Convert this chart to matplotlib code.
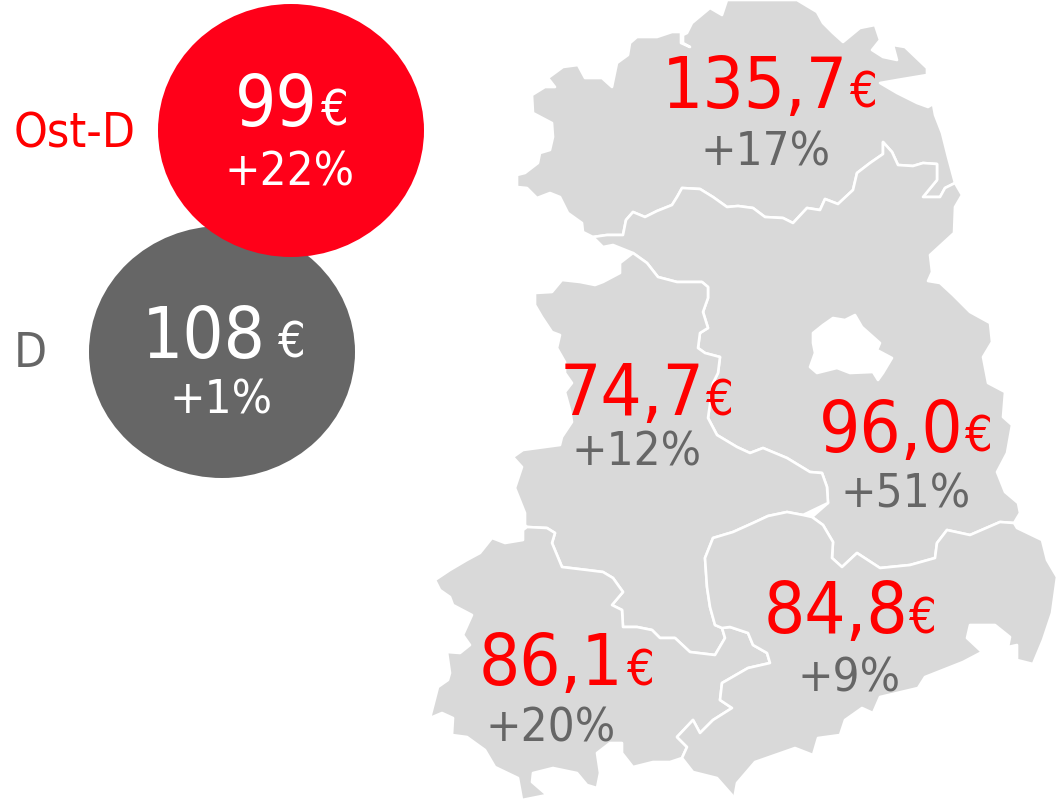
import matplotlib
matplotlib.use("Agg")
from matplotlib import pyplot as plt
from matplotlib.patches import Ellipse, Polygon

RED = "#ff0000"
CIRCLE_RED = "#ff0019"
DARK_GREY = "#666666"
MAP_GREY = "#d9d9d9"

# Revenue per region
region_values = ["135,7", "74,7", "96,0", "84,8", "86,1"]
region_changes = ["+17%", "+12%", "+51%", "+9%", "+20%"]
region_value_x = [755, 632, 891, 836, 551]
region_value_y = [108, 415, 452, 633, 685]
region_euro_x = [864, 720, 979, 923, 641]
region_change_x = [766, 637, 906, 849, 551]
region_change_y = [165, 466, 508, 692, 741]

# Summary circles
circle_names = ["Ost-D", "D"]
circle_values = ["99", "108"]
circle_changes = ["+22%", "+1%"]

# Borders and outlines (pixels)
border_mv_bb = [(583, 232), (593, 237), (607, 235), (623, 235), (626, 220), (633, 212), (645, 217), (657, 211),
                (672, 205), (677, 197), (682, 188), (700, 189), (713, 197), (727, 207), (738, 206), (753, 208),
                (765, 217), (783, 218), (793, 223), (807, 208), (820, 210), (825, 199), (838, 204), (853, 190),
                (857, 173), (870, 163), (883, 154), (883, 142), (892, 152), (898, 165), (913, 166), (923, 163),
                (937, 164), (937, 180), (923, 197), (940, 197), (945, 188), (955, 183)]
outline_mv = [(948, 157), (942, 133), (935, 115), (933, 104), (928, 107), (917, 103), (897, 93), (880, 83), (897, 80),
              (927, 75), (927, 68), (905, 47), (893, 45), (897, 60), (883, 57), (872, 50), (880, 40), (875, 25),
              (860, 28), (843, 42), (833, 33), (823, 23), (817, 12), (797, 0), (727, 0), (722, 15), (710, 8),
              (692, 23), (687, 33), (683, 35), (683, 43), (690, 47), (681, 43), (681, 32), (672, 32), (657, 37),
              (637, 37), (630, 43), (628, 55), (617, 63), (612, 87), (602, 78), (585, 78), (578, 65), (563, 67),
              (548, 78), (555, 87), (545, 87), (532, 95), (533, 113), (552, 123), (553, 137), (550, 150), (540, 153),
              (538, 163), (525, 173), (517, 175), (517, 187), (527, 188), (537, 198), (550, 193), (560, 197),
              (568, 213), (582, 223)]
outline_bb_east = [(962, 195), (955, 207), (954, 233), (930, 255), (932, 272), (928, 281), (940, 283), (953, 295),
                   (970, 312), (990, 323), (992, 342), (983, 357), (988, 383), (1005, 392), (1003, 417), (1012, 425),
                   (1007, 453), (997, 472), (1005, 492), (1018, 503), (1020, 513), (1014, 523)]
border_bb_sn = [(1000, 522), (970, 535), (947, 530), (937, 543), (935, 558), (910, 565), (880, 568), (857, 553),
                (842, 567), (832, 558), (833, 542), (823, 525), (812, 517)]
border_bb_st = [(828, 503), (827, 487), (822, 473), (810, 472), (787, 458), (763, 448), (750, 453), (737, 447),
                (717, 435), (708, 418), (713, 383), (718, 373), (720, 357), (705, 353), (698, 348), (700, 333),
                (708, 328), (703, 312), (708, 298), (708, 287), (702, 282), (693, 282), (677, 282), (658, 277),
                (647, 263), (633, 253)]
outline_bb_west = [(613, 245), (603, 247)]
outline_st = [(620, 263), (620, 273), (603, 282), (595, 285), (580, 282), (562, 280), (552, 292), (535, 293),
              (535, 305), (542, 317), (552, 332), (560, 335), (557, 348), (565, 362), (565, 373), (572, 383),
              (565, 392), (570, 410), (572, 422), (562, 437), (560, 445), (523, 450), (513, 457), (522, 467),
              (515, 488), (525, 513), (525, 525)]
border_st_th = [(527, 527), (547, 528), (555, 533), (552, 543), (562, 567), (587, 570), (603, 572), (613, 578),
                (623, 592), (612, 605), (622, 610), (623, 627), (637, 627), (652, 630), (660, 638), (675, 638),
                (690, 652), (715, 655), (725, 638), (722, 628)]
border_st_sn = [(715, 625), (710, 607), (707, 587), (705, 558), (713, 538), (733, 532), (753, 523), (768, 516),
                (787, 512), (803, 515), (812, 517)]
border_th_sn = [(730, 627), (748, 633), (753, 645), (767, 653), (770, 663), (748, 668), (722, 683), (720, 700),
                (732, 708), (713, 720), (700, 733), (693, 720), (677, 737), (687, 747), (682, 758)]
outline_th = [(670, 762), (653, 762), (633, 767), (622, 753), (622, 743), (610, 743), (597, 753), (600, 773),
              (597, 788), (587, 785), (577, 773), (553, 768), (533, 773), (532, 782), (547, 795), (532, 798),
              (522, 800), (518, 778), (495, 767), (485, 750), (467, 737), (452, 735), (453, 718), (442, 713),
              (430, 718), (438, 687), (448, 680), (450, 673), (447, 652), (460, 653), (470, 645), (463, 635),
              (472, 615), (453, 605), (450, 597), (440, 590), (435, 580), (450, 570), (467, 560), (480, 553),
              (492, 538), (505, 543), (523, 540), (523, 530)]
outline_sn = [(693, 772), (717, 778), (732, 795), (733, 805), (737, 783), (755, 762), (795, 748), (813, 755),
              (818, 738), (840, 735), (845, 720), (862, 708), (873, 713), (880, 697), (918, 688), (925, 677),
              (963, 662), (982, 652), (967, 638), (970, 625), (995, 625), (1010, 637), (1008, 647), (1017, 645),
              (1017, 660), (1033, 664), (1043, 640), (1052, 613), (1057, 577), (1047, 560), (1042, 540),
              (1017, 528), (1014, 523)]
outline_berlin = [(813, 333), (823, 325), (833, 318), (845, 320), (855, 315), (862, 327), (880, 343), (877, 350),
                  (892, 358), (883, 373), (878, 380), (873, 372), (850, 373), (837, 368), (817, 373), (810, 367),
                  (815, 353), (813, 343)]


def add_region(ax, points, face=MAP_GREY):
    ax.add_patch(Polygon(points, closed=True, facecolor=face, edgecolor="white", linewidth=1.9, joinstyle="round"))


def add_text(ax, x, y, label, size, color, ha="center"):
    ax.text(x, y, label, fontsize=size, color=color, ha=ha, va="baseline",
            family="DejaVu Sans", stretch="condensed")


fig = plt.figure(figsize=(10.59, 8.06), dpi=100)
ax = fig.add_axes([0, 0, 1, 1])
ax.set_xlim(0, 1059)
ax.set_ylim(806, 0)
ax.axis("off")

# Map
add_region(ax, border_mv_bb + outline_mv)
add_region(ax, border_mv_bb[1:] + outline_bb_east + border_bb_sn + border_bb_st + outline_bb_west)
add_region(ax, border_bb_st[::-1] + border_st_sn[::-1][1:] + border_st_th[::-1] + outline_st[::-1])
add_region(ax, border_st_th + border_th_sn + outline_th)
add_region(ax, border_st_sn + border_bb_sn[::-1] + outline_sn[::-1] + border_th_sn[::-1] + [(722, 628)])
add_region(ax, outline_berlin, face="white")

# Summary circles
ax.add_patch(Ellipse((222, 352), 266, 252, facecolor=DARK_GREY, edgecolor="none"))
ax.add_patch(Ellipse((291, 130.5), 266, 253, facecolor=CIRCLE_RED, edgecolor="none"))
add_text(ax, 276, 126, circle_values[0], 52, "white")
add_text(ax, 335, 126, "€", 35, "white")
add_text(ax, 290, 185, circle_changes[0], 34, "white")
add_text(ax, 204, 358, circle_values[1], 52, "white")
add_text(ax, 292, 358, "€", 35, "white")
add_text(ax, 221, 413, circle_changes[1], 34, "white")
add_text(ax, 14, 147, circle_names[0], 34.5, RED, ha="left")
add_text(ax, 14, 367, circle_names[1], 34.5, DARK_GREY, ha="left")

# Region labels
for i, value in enumerate(region_values):
    add_text(ax, region_value_x[i], region_value_y[i], value, 52, RED)
    add_text(ax, region_euro_x[i], region_value_y[i], "€", 35, RED)
    add_text(ax, region_change_x[i], region_change_y[i], region_changes[i], 34, DARK_GREY)

fig.savefig("out.png", dpi=100)
